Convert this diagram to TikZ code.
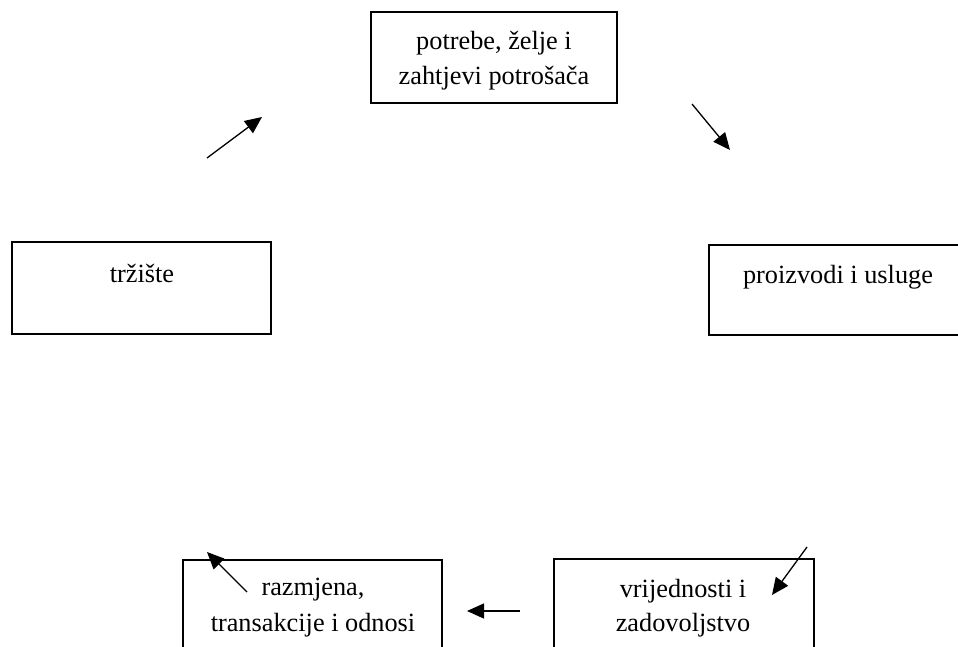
\documentclass[tikz,border=0pt]{standalone}
\usepackage{fontspec}
\setmainfont{Liberation Serif}
\usetikzlibrary{arrows.meta}
\begin{document}
\begin{tikzpicture}[x=1pt,y=-1pt,
  box/.style={draw, line width=2.4pt, inner sep=0pt},
  lbl/.style={font=\fontsize{26.3}{33}\selectfont, anchor=base, inner sep=0pt},
  arr/.style={line width=1.3pt, -{Triangle[length=17pt,width=15pt]}}]
\useasboundingbox (0,0) rectangle (958,647);
\clip (0,0) rectangle (958,647);
% boxes
\node[box, minimum width=246pt, minimum height=91pt] (b1) at (494,57.5) {};
\node[box, minimum width=259pt, minimum height=92pt] (b2) at (141.5,288) {};
\node[box, minimum width=259pt, minimum height=90pt] (b3) at (838.5,290) {};
\node[box, minimum width=259pt, minimum height=120pt] (b4) at (312.5,620) {};
\node[box, minimum width=260pt, minimum height=120pt] (b5) at (684,619) {};
% texts
\node[lbl] (t1a) at (494,50) {potrebe, želje i};
\node[lbl] (t1b) at (494,85) {zahtjevi potrošača};
\node[lbl] (t2) at (142,282) {tržište};
\node[lbl] (t3) at (838,283) {proizvodi i usluge};
\node[lbl] (t4a) at (313,595) {razmjena,};
\node[lbl] (t4b) at (313,631) {transakcije i odnosi};
\node[lbl] (t5a) at (683,597) {vrijednosti i};
\node[lbl] (t5b) at (683,631) {zadovoljstvo};
% arrows
\coordinate (a1s) at (207,158); \coordinate (a1e) at (262,117);
\coordinate (a2s) at (692,104); \coordinate (a2e) at (730,150);
\coordinate (a3s) at (807,547); \coordinate (a3e) at (772,595);
\coordinate (a4s) at (520,611); \coordinate (a4e) at (467,611);
\coordinate (a5s) at (247,592); \coordinate (a5e) at (207,552);
\draw[arr] (a1s) -- (a1e);
\draw[arr] (a2s) -- (a2e);
\draw[arr] (a3s) -- (a3e);
\draw[arr] (a4s) -- (a4e);
\draw[arr] (a5s) -- (a5e);
\end{tikzpicture}
\end{document}
